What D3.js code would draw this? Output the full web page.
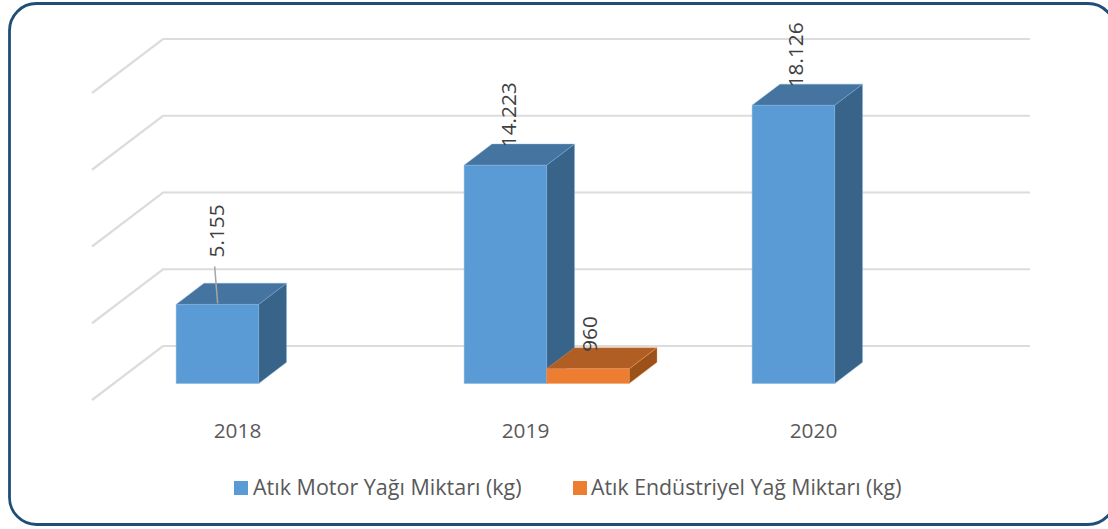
<!DOCTYPE html>
<html><head><meta charset="utf-8">
<script src="https://cdnjs.cloudflare.com/ajax/libs/d3/7.8.5/d3.min.js"></script>
<style>html,body{margin:0;padding:0;background:#fff;overflow:hidden}svg{display:block}text{font-family:"Open Sans","Noto Sans",sans-serif}</style>
</head><body><svg id="c" width="1108" height="529"></svg>
<script>
const categories = ["2018", "2019", "2020"];
const seriesNames = ["Atık Motor Yağı Miktarı (kg)", "Atık Endüstriyel Yağ Miktarı (kg)"];
const motorValues = [5155, 14223, 18126];
const industrialValues = [0, 960, 0];
const seriesColors = [
  {front:"#5b9bd5", top:"#44749f", side:"#386489", edge:"#7fb0de"},
  {front:"#ed7d31", top:"#b15e25", side:"#9c5118", edge:"#f19a60"}
];
const svg = d3.select("#c");
const fmt = d3.formatLocale({decimal:",",thousands:".",grouping:[3],currency:["",""]}).format(",d");

const x0 = d3.scaleBand().domain(categories).range([93, 957]);
const x1 = d3.scaleBand().domain([0,1]).range([61.5, 226.5]);
const y = d3.scaleLinear().domain([0,20000]).range([400,93]);
const DX = 71, DY = 54, D0 = 0.305, D1 = 0.697;
const P = (px, v, d) => [px + d*DX, y(v) - d*DY];
const poly = pts => "M" + pts.map(p=>p.join(",")).join("L") + "Z";

// frame
svg.append("rect").attr("x",9.5).attr("y",3.5).attr("width",1105.5).attr("height",521)
  .attr("rx",27).attr("fill","#fff").attr("stroke","#1f4e79").attr("stroke-width",2.8);

// walls
const ticks = y.ticks(4);
svg.append("g").selectAll("path").data(ticks).join("path")
  .attr("fill","none").attr("stroke","#dcdcdc").attr("stroke-width",2.2)
  .attr("d", t => { const a=P(x0.range()[0]-1,t,0), b=P(x0.range()[0]-1,t,1);
    const c=P(x0.range()[1]+2,t,1); return "M"+a+"L"+b+"L"+c; });

// bars
const bars = [];
categories.forEach((c,i)=>{
  [motorValues[i],industrialValues[i]].forEach((v,s)=>{ if(v>0) bars.push({c,v,s}); });
});
const g = svg.append("g");
bars.forEach(b=>{
  const l = x0(b.c)+x1(b.s), r = l+x1.bandwidth(), col = seriesColors[b.s];
  const face = (pts,fill)=>g.append("path").attr("d",poly(pts)).attr("fill",fill)
    .attr("stroke",col.edge).attr("stroke-width",0.6).attr("stroke-opacity",.7);
  face([P(r,0,D0),P(r,0,D1),P(r,b.v,D1),P(r,b.v,D0)],col.side);
  face([P(l,b.v,D0),P(r,b.v,D0),P(r,b.v,D1),P(l,b.v,D1)],col.top);
  face([P(l,0,D0),P(r,0,D0),P(r,b.v,D0),P(l,b.v,D0)],col.front);
});

// data labels
const labels = svg.append("g");
bars.forEach(b=>{
  const l = x0(b.c)+x1(b.s);
  const p = P(l,b.v,D0);
  const short = b.s===1;
  const first = b.c==="2018";
  const lx = p[0] + (short ? 50 : first ? 47.8 : b.c==="2019" ? 51.5 : 50.5);
  const ly = p[1] + (short ? -17 : first ? -47 : -18);
  labels.append("text").attr("transform",`translate(${lx},${ly}) rotate(-90)`)
    .attr("font-size",20.8).attr("fill","#404040").text(fmt(b.v));
  if(first){
    labels.append("line").attr("x1",p[0]+38.5).attr("y1",p[1]-38).attr("x2",p[0]+41.5).attr("y2",p[1]-1)
      .attr("stroke","#a6a6a6").attr("stroke-width",1.5);
  }
});

// category axis
svg.append("g").selectAll("text").data(categories).join("text")
  .attr("x",c=>x0(c)+x0.bandwidth()/2+0.5).attr("y",438).attr("text-anchor","middle")
  .attr("font-size",20.8).attr("fill","#595959").text(c=>c);

// legend
const legendX = [[234,253],[573,591]];
const legendSize = [21.5, 21.3];
const lg = svg.append("g");
seriesNames.forEach((n,i)=>{
  lg.append("rect").attr("x",legendX[i][0]).attr("y",481).attr("width",14).attr("height",14).attr("fill",seriesColors[i].front);
  lg.append("text").attr("x",legendX[i][1]).attr("y",495).attr("font-size",legendSize[i]).attr("fill","#595959").text(n);
});
</script></body></html>
